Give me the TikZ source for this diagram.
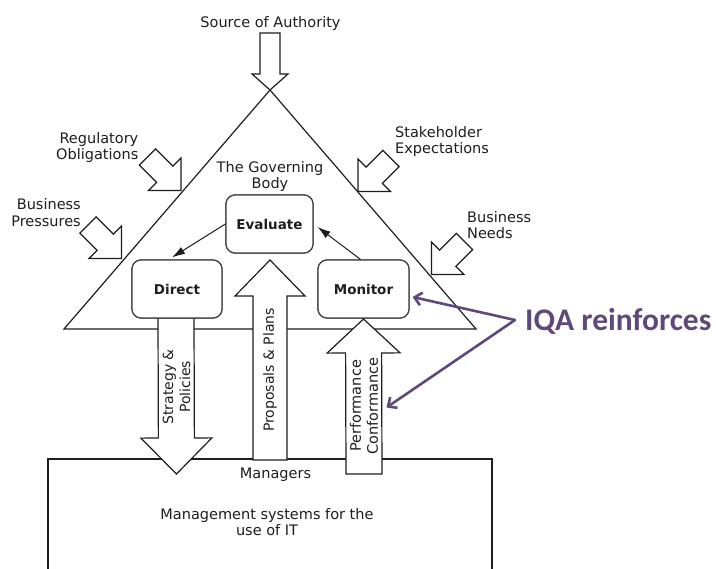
\documentclass[tikz,border=0pt]{standalone}
\usepackage{fontspec}
\setmainfont{DejaVu Sans}
\newfontfamily\calibrifont{Carlito}
\usetikzlibrary{calc,arrows.meta}

\definecolor{inkgray}{HTML}{1E1E1E}
\definecolor{iqapurple}{HTML}{5F497A}

% Block arrow: #1 tail centre, #2 tip, #3 shaft half-width,
% #4 head half-width, #5 head length
\newcommand{\bigarrow}[5]{%
  \coordinate (ba-base) at ($(#2)!#5!(#1)$);
  \draw[blockarrow] (#2)
    -- ($(ba-base)!#4!90:(#1)$)
    -- ($(ba-base)!#3!90:(#1)$)
    -- ($(#1)!#3!-90:(#2)$)
    -- ($(#1)!#3!90:(#2)$)
    -- ($(ba-base)!#3!-90:(#1)$)
    -- ($(ba-base)!#4!-90:(#1)$)
    -- cycle;}

\begin{document}
\begin{tikzpicture}[x=1pt,y=-1pt,
  every node/.style={text=inkgray, inner sep=0pt},
  txt/.style={font=\fontsize{14.5pt}{16pt}\selectfont},
  govline/.style={draw=inkgray, line width=1.2pt, line join=miter},
  blockarrow/.style={draw=inkgray, fill=white, line width=1.2pt, line join=miter},
  govbox/.style={draw=inkgray!85, fill=white, line width=1.2pt,
    rounded corners=9pt, minimum height=58pt,
    font=\bfseries\fontsize{13.5pt}{16pt}\selectfont},
  flow/.style={draw=inkgray, line width=1pt, -{Latex[length=13pt,width=8pt]}},
  reinf/.style={draw=iqapurple, line width=2.6pt, line cap=round,
    -{Straight Barb[length=7pt,width=13pt]}},
  uptext/.style={txt, rotate=90, align=center}
]
\fill[white] (0,0) rectangle (716,569);
\useasboundingbox (0,0) rectangle (716,569);

% the governing body triangle
\coordinate (apex) at (270,90);
\coordinate (baseL) at (64,329);
\coordinate (baseR) at (476,329);
\draw[govline] (apex) -- (baseL) -- (baseR) -- cycle;

% management systems box, open at the bottom
\coordinate (mgL) at (48,569);
\coordinate (mgTL) at (48,459);
\coordinate (mgTR) at (492,459);
\coordinate (mgR) at (492,569);
\draw[govline] (mgL) -- (mgTL) -- (mgTR) -- (mgR);

% the three activities
\node[govbox, minimum width=87pt] (evaluate) at (269.5,224) {Evaluate};
\node[govbox, minimum width=90pt] (direct) at (177,289) {Direct};
\node[govbox, minimum width=91pt] (monitor) at (363.5,289) {Monitor};

% external influences
\coordinate (srcTail) at (270,33);   \coordinate (srcTip) at (270,90);
\coordinate (regTail) at (147.5,157); \coordinate (regTip) at (181,190.5);
\coordinate (preTail) at (88,225);    \coordinate (preTip) at (121.5,258.5);
\coordinate (stkTail) at (391,158.5); \coordinate (stkTip) at (358,191.5);
\coordinate (ndsTail) at (464.5,241.5); \coordinate (ndsTip) at (431.5,274.5);
\bigarrow{srcTail}{srcTip}{10pt}{18pt}{16pt}
\bigarrow{regTail}{regTip}{11.5pt}{23pt}{23pt}
\bigarrow{preTail}{preTip}{11.5pt}{23pt}{23pt}
\bigarrow{stkTail}{stkTip}{11.5pt}{23pt}{23pt}
\bigarrow{ndsTail}{ndsTip}{11.5pt}{23pt}{23pt}

% flows between the governing body and the managers
\coordinate (strTail) at (176,318);  \coordinate (strTip) at (176.5,474);
\coordinate (proTail) at (270,460);  \coordinate (proTip) at (270,260);
\coordinate (perTail) at (364,474);  \coordinate (perTip) at (363.5,319);
\bigarrow{strTail}{strTip}{18pt}{35.5pt}{36pt}
\bigarrow{proTail}{proTip}{17pt}{35pt}{36pt}
\bigarrow{perTail}{perTip}{18pt}{36.5pt}{34pt}

% redraw the boxes over the arrow ends
\node[govbox, minimum width=87pt] at (evaluate) {Evaluate};
\node[govbox, minimum width=90pt] at (direct) {Direct};
\node[govbox, minimum width=91pt] at (monitor) {Monitor};

% texts
\node[txt, anchor=north] (source) at (270.5,16.5) {Source of Authority};
\node[txt, anchor=north east, align=right] (regulatory) at (138.5,132.5)
  {Regulatory\\Obligations};
\node[txt, anchor=north east, align=right,
  font=\fontsize{14.5pt}{17.5pt}\selectfont] (pressures) at (81,198)
  {Business\\Pressures};
\node[txt, anchor=north west, align=left] (stakeholder) at (395,126.5)
  {Stakeholder\\Expectations};
\node[txt, anchor=north west, align=left] (needs) at (467,211.5)
  {Business\\Needs};
\node[txt, anchor=north, align=center] (body) at (270,161.5)
  {The Governing\\Body};
\node[txt, anchor=north] (managers) at (275.5,467.5) {Managers};
\node[txt, anchor=north, align=center] (mgmt) at (267,508.5)
  {Management systems for the\\use of IT};

\node[uptext, font=\fontsize{14pt}{17pt}\selectfont] (strategy) at (176.5,387)
  {Strategy \&\\Policies};
\node[uptext, font=\fontsize{14pt}{17pt}\selectfont] (proposals) at (270,370)
  {Proposals \& Plans};
\node[uptext, font=\fontsize{14.5pt}{17pt}\selectfont] (performance) at (364,406)
  {Performance\\Conformance};

% cycle between the activities
\draw[flow] (evaluate.west) -- ([xshift=-5pt,yshift=2pt]direct.north);
\draw[flow] ([xshift=-3pt]monitor.north) -- ([xshift=4pt,yshift=-3pt]evaluate.east);

% internal quality assurance
\node[font=\calibrifont\bfseries\fontsize{31.5pt}{36pt}\selectfont,
  text=iqapurple, anchor=base west] (iqa) at (525,331) {IQA reinforces};
\coordinate (iqaFork) at (515,320);
\coordinate (perfSide) at (386.5,407.5);
\draw[reinf] (iqaFork) -- ($(monitor.east)+(3,8)$);
\draw[reinf] (iqaFork) -- (perfSide);
\end{tikzpicture}
\end{document}
